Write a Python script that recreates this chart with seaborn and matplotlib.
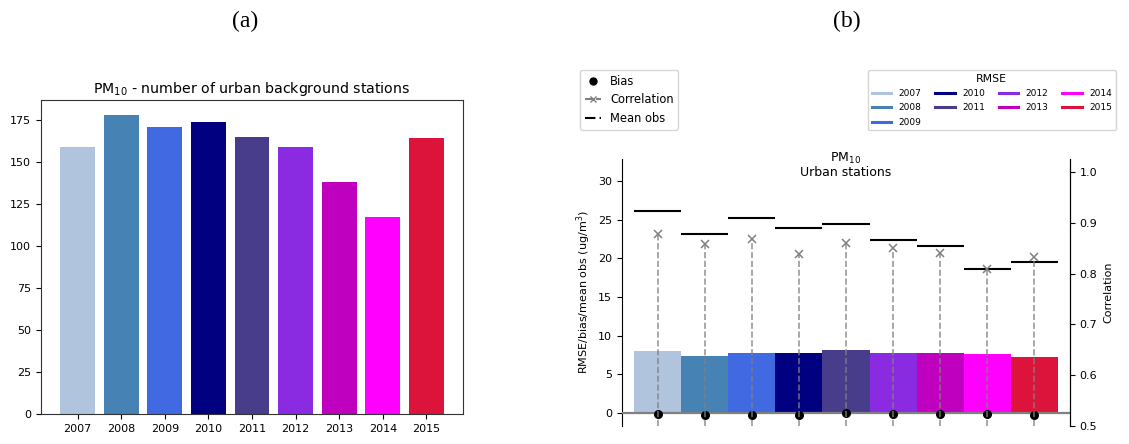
import matplotlib
matplotlib.use("Agg")
import matplotlib.pyplot as plt
import seaborn as sns
import pandas as pd
import numpy as np
from matplotlib.lines import Line2D

# ---- data ----
years = ["2007", "2008", "2009", "2010", "2011", "2012", "2013", "2014", "2015"]
colors = ["lightsteelblue", "steelblue", "royalblue", "navy", "darkslateblue",
          "blueviolet", "m", "magenta", "crimson"]
n_stations = [159, 178, 171, 174, 165, 159, 138, 117, 164]
rmse = [8.0, 7.4, 7.7, 7.7, 8.1, 7.8, 7.75, 7.6, 7.2]
bias = [-0.13, -0.26, -0.26, -0.26, -0.09, -0.2, -0.13, -0.17, -0.26]
mean_obs = [26.1, 23.2, 25.2, 23.9, 24.5, 22.4, 21.6, 18.6, 19.5]
correlation = [0.878, 0.859, 0.868, 0.839, 0.860, 0.851, 0.841, 0.810, 0.832]

df = pd.DataFrame({"year": years, "n": n_stations, "rmse": rmse,
                   "bias": bias, "mean_obs": mean_obs, "corr": correlation})
pal = dict(zip(years, colors))
xpos = np.arange(len(years))

W, H = 1129, 444
fig = plt.figure(figsize=(W / 100, H / 100), dpi=100)
plt.rcParams["font.family"] = ["DejaVu Sans"]

# ---- panel (a) ----
ax1 = fig.add_axes([41 / W, 1 - 414 / H, 422 / W, 314 / H])
sns.barplot(data=df, x="year", y="n", hue="year", palette=pal, legend=False,
            saturation=1, width=0.8, ax=ax1)
ax1.set_xlim(-0.84, 8.84)
ax1.set_ylim(0, 186.9)
ax1.set_xlabel("")
ax1.set_ylabel("")
ax1.tick_params(labelsize=8)
ax1.set_title("PM$_{10}$ - number of urban background stations", fontsize=10.2, pad=5)
for s in ax1.spines.values():
    s.set_color("#333333")

# ---- panel (b) ----
ax2 = fig.add_axes([622 / W, 1 - 425.7 / H, 448 / W, 266.7 / H])
sns.barplot(data=df, x="year", y="rmse", hue="year", palette=pal, legend=False,
            saturation=1, width=1.0, ax=ax2)
ax2.set_xlim(-0.76, 8.76)
ax2.set_ylim(-1.68, 32.9)
ax2.axhline(0, color="gray", lw=1.6, zorder=3)
ax2.hlines(df["mean_obs"], xpos - 0.5, xpos + 0.5, colors="k", lw=1.5, zorder=4)
ax2.plot(xpos, df["bias"], "o", color="k", ms=5.5, zorder=5)
ax2.set_xticks([])
ax2.set_xlabel("")
ax2.set_ylabel("RMSE/bias/mean obs (ug/m$^3$)", fontsize=8)
ax2.tick_params(labelsize=8)
ax2.spines["top"].set_visible(False)
ax2.spines["bottom"].set_visible(False)
ax2.text(0.5, 0.977, "PM$_{10}$\nUrban stations", transform=ax2.transAxes,
         ha="center", va="center", fontsize=9, linespacing=1.0)

ax3 = ax2.twinx()
ax3.set_ylim(0.5, 1.026)
ax3.vlines(xpos, 0.5, df["corr"], colors="gray", linestyles="--", lw=1.2, alpha=0.8)
ax3.plot(xpos, df["corr"], "x", color="gray", ms=5.5, mew=1.1)
ax3.set_ylabel("Correlation", fontsize=8)
ax3.tick_params(labelsize=8)
for sp in ["top", "bottom", "left"]:
    ax3.spines[sp].set_visible(False)

# legends
h1 = [Line2D([], [], marker="o", color="k", ls="none", ms=5),
      Line2D([], [], marker="x", color="gray", ls="--", ms=5),
      Line2D([], [], color="k", ls=(0, (5, 2, 1, 2)))]
fig.legend(h1, ["Bias", "Correlation", "Mean obs"], loc="upper left",
           bbox_to_anchor=(580 / W, 1 - 70 / H), fontsize=8.3, handlelength=1.4,
           borderaxespad=0)
h2 = [Line2D([], [], color=c, lw=2.2) for c in colors]
fig.legend(h2, years, loc="upper left", ncol=4, title="RMSE",
           bbox_to_anchor=(868 / W, 1 - 70 / H), fontsize=6.5, title_fontsize=7.8,
           handlelength=2.2, columnspacing=1.5, labelspacing=0.6, borderaxespad=0)

fig.text(245 / W, 1 - 21 / H, "(a)", family="Liberation Serif", fontsize=17,
         ha="center", va="center")
fig.text(847 / W, 1 - 21 / H, "(b)", family="Liberation Serif", fontsize=17,
         ha="center", va="center")

fig.savefig("out.png", dpi=100)
